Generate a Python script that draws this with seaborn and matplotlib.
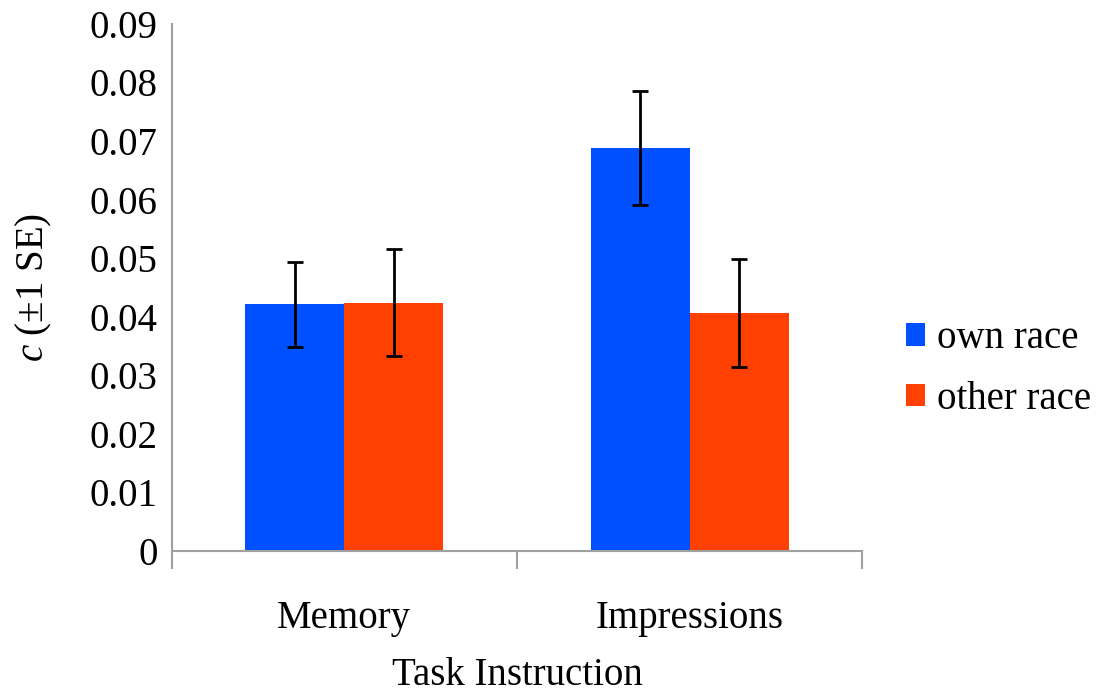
import numpy as np
import matplotlib.pyplot as plt
import pandas as pd
import seaborn as sns

# Values
tasks = ["Memory", "Impressions"]
races = ["own race", "other race"]
own_mean = [0.0421, 0.0688]
other_mean = [0.0424, 0.0406]
own_se = [0.0072, 0.0097]
other_se = [0.0092, 0.0092]

df = pd.DataFrame({
    "task": tasks * 2,
    "race": [races[0]] * 2 + [races[1]] * 2,
    "c": own_mean + other_mean,
    "se": own_se + other_se,
})

sns.set_style("white")
plt.rcParams['font.family'] = ['Liberation Serif', 'DejaVu Serif']
plt.rcParams['mathtext.fontset'] = 'custom'
plt.rcParams['mathtext.it'] = 'Liberation Serif:italic'
plt.rcParams['mathtext.rm'] = 'Liberation Serif'
plt.rcParams['text.color'] = 'black'
plt.rcParams['axes.labelcolor'] = 'black'
plt.rcParams['xtick.color'] = 'black'
plt.rcParams['ytick.color'] = 'black'

fs = 28

fig = plt.figure(figsize=(11, 7), dpi=100)
ax = fig.add_axes([0.156, 0.213, 0.628, 0.753])

palette = {"own race": "#0050FF", "other race": "#FF4000"}
sns.barplot(data=df, x="task", y="c", hue="race", order=tasks, hue_order=races,
            palette=palette, width=0.574, gap=0, errorbar=None, saturation=1,
            ax=ax, linewidth=0)

# error bars from the bar positions
for cont, race in zip(ax.containers, races):
    sub = df[df.race == race].set_index("task").loc[tasks]
    xs = [b.get_x() + b.get_width() / 2 for b in cont]
    ax.errorbar(xs, sub["c"], yerr=sub["se"], fmt="none", ecolor="black",
                elinewidth=2, capsize=6, capthick=2)

ax.set_ylim(0, 0.09)
ax.set_xlim(-0.5, 1.5)
ax.set_yticks(np.arange(0, 0.0901, 0.01))
ax.set_yticklabels(["0"] + [f"{v:.2f}" for v in np.arange(0.01, 0.0901, 0.01)])
ax.tick_params(axis="y", left=False, length=0, labelsize=fs, pad=10)
ax.tick_params(axis="x", which="major", bottom=False, length=0, labelsize=fs, pad=35)
ax.set_xticks([-0.5, 0.5, 1.5], minor=True)
ax.tick_params(axis="x", which="minor", bottom=True, length=13, width=1.5,
               color="#a0a0a0", direction="out")

for s in ["top", "right"]:
    ax.spines[s].set_visible(False)
for s in ["left", "bottom"]:
    ax.spines[s].set_color("#a0a0a0")
    ax.spines[s].set_linewidth(1.5)

ax.set_xlabel("Task Instruction", fontsize=fs, labelpad=15)
ax.set_ylabel(r"$c$ (±1 SE)", fontsize=fs, labelpad=26)

ax.legend(loc="center left", bbox_to_anchor=(1.04, 0.345), frameon=False,
          fontsize=fs, handlelength=0.5, handleheight=0.5, handletextpad=0.3,
          labelspacing=0.6, borderaxespad=0)

fig.savefig("out.png", dpi=100)
